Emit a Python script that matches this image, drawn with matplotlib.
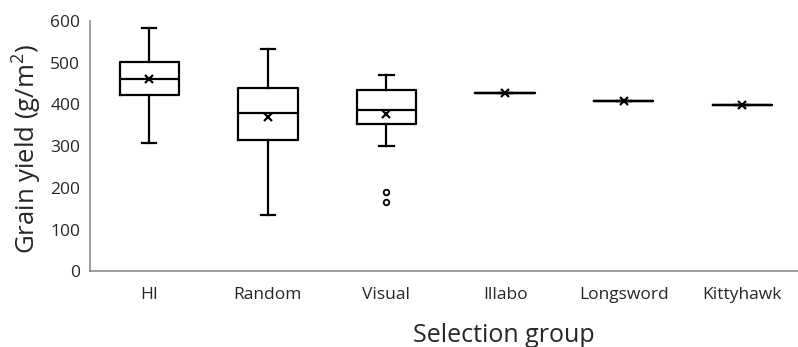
import matplotlib
matplotlib.use("Agg")
import matplotlib.pyplot as plt

groups = ["HI", "Random", "Visual", "Illabo", "Longsword", "Kittyhawk"]
whislo = [308, 135, 300, 426, 407, 398]
q1 = [422, 314, 354, 426, 407, 398]
med = [460, 380, 386, 426, 407, 398]
q3 = [501, 438, 434, 426, 407, 398]
whishi = [583, 533, 469, 426, 407, 398]
means = [460, 370, 378, 426, 407, 398]
fliers = [[], [], [191, 167], [], [], []]
yticks = [0, 100, 200, 300, 400, 500, 600]

plt.rcParams['font.family'] = ['Open Sans', 'DejaVu Sans']
plt.rcParams['mathtext.fontset'] = 'custom'
plt.rcParams['mathtext.rm'] = 'Open Sans'
plt.rcParams['mathtext.it'] = 'Open Sans'

fig = plt.figure(figsize=(7.98, 3.47), dpi=100)
ax = fig.add_axes([0.1128, 0.2176, 1 - 0.1128, 0.9403 - 0.2176])

stats = []
for i, g in enumerate(groups):
    stats.append(dict(label=g, whislo=whislo[i], q1=q1[i], med=med[i], q3=q3[i],
                      whishi=whishi[i], mean=means[i], fliers=fliers[i]))

lw = 1.6
ax.bxp(stats, positions=range(len(groups)), widths=0.5, showmeans=True,
       showfliers=True,
       boxprops=dict(color="black", linewidth=lw),
       whiskerprops=dict(color="black", linewidth=lw),
       capprops=dict(color="black", linewidth=lw),
       medianprops=dict(color="black", linewidth=lw),
       meanprops=dict(marker="x", markeredgecolor="black", markersize=6, markeredgewidth=1.6),
       flierprops=dict(marker="o", markerfacecolor="white", markeredgecolor="black",
                       markersize=4, markeredgewidth=1.3),
       capwidths=0.12)

ax.set_xlim(-0.5, 5.47)
ax.set_ylim(0, 600)
ax.set_yticks(yticks)
ax.set_xticks(range(len(groups)))
ax.set_xticklabels(groups)
for s in ["top", "right"]:
    ax.spines[s].set_visible(False)
for s in ["left", "bottom"]:
    ax.spines[s].set_color("#8c8c8c")
    ax.spines[s].set_linewidth(1.2)
ax.tick_params(axis="both", length=0, labelsize=12.5, colors="#262626")
ax.tick_params(axis="x", pad=11)
ax.tick_params(axis="y", pad=7)

fig.text(504 / 798, 1 - 342 / 347, "Selection group", fontsize=18, color="#262626",
         ha="center", va="baseline")
fig.text(11 / 798, 1 - 254 / 347, "Grain yield (g/m$^{\\mathrm{2}}$)", fontsize=18.5,
         color="#262626", ha="left", va="bottom", rotation=90)

fig.savefig("out.png", dpi=100)
